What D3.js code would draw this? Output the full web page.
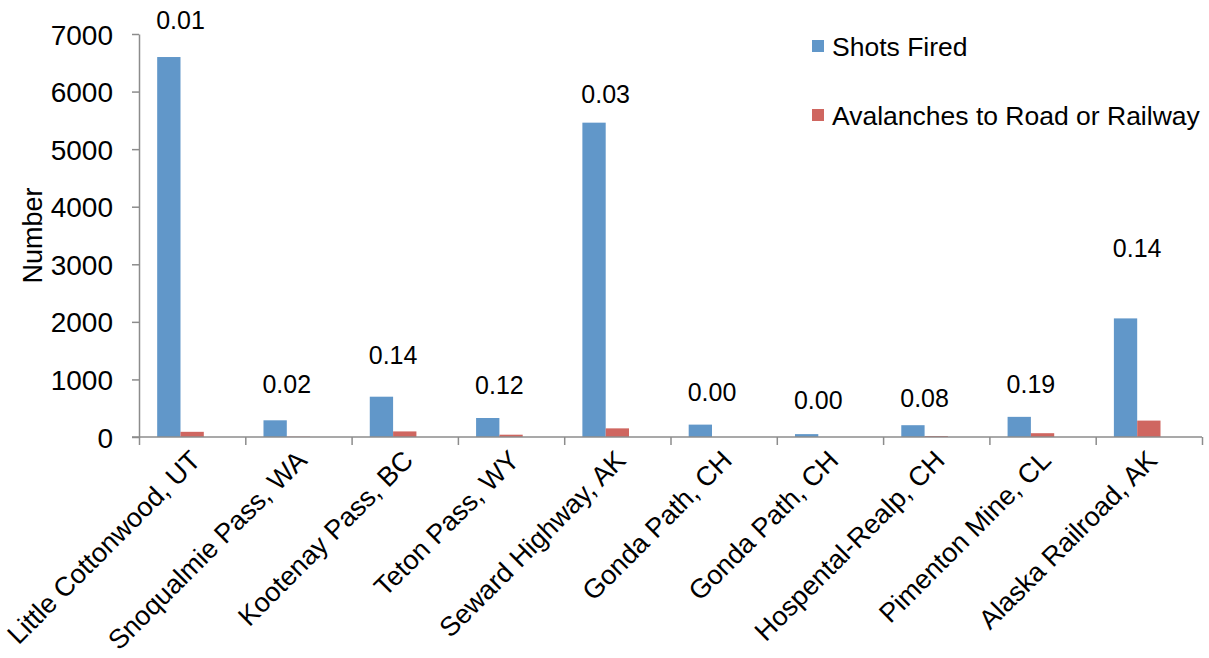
<!DOCTYPE html>
<html>
<head>
<meta charset="utf-8">
<script src="https://cdn.jsdelivr.net/npm/d3@7"></script>
<style>
  body { margin: 0; background: #fff; }
  svg text { font-family: "Liberation Sans", Arial, sans-serif; fill: #000; }
</style>
</head>
<body>
<svg id="chart" width="1209" height="658"></svg>
<script>
const categories = ['Little Cottonwood, UT', 'Snoqualmie Pass, WA', 'Kootenay Pass, BC', 'Teton Pass, WY',
  'Seward Highway, AK', 'Gonda Path, CH', 'Gonda Path, CH ', 'Hospental-Realp, CH', 'Pimenton Mine, CL', 'Alaska Railroad, AK']
const shotsFired = [6600, 290, 700, 330, 5460, 215, 50, 205, 350, 2060]
const avalanches = [90, 6, 97, 40, 150, 0, 0, 17, 66, 285]
const ratioLabels = ['0.01', '0.02', '0.14', '0.12', '0.03', '0.00', '0.00', '0.08', '0.19', '0.14']
// height (in axis units) where each ratio label sits in the original
const labelAnchor = [7080, 760, 1260, 740, 5810, 620, 480, 515, 760, 3135]
const yTicks = [0, 1000, 2000, 3000, 4000, 5000, 6000, 7000]
const seriesNames = ['Shots Fired', 'Avalanches to Road or Railway']

const colors = { shots: '#6197c9', aval: '#cf6660', axis: '#8c8c8c' }

const svg = d3.select('#chart')
const mLeft = 139, mRight = 1202, mTop = 34, mBottom = 437

const x0 = d3.scaleBand().domain(d3.range(categories.length)).range([mLeft, mRight])
const x1 = d3.scaleBand().domain(['shots', 'aval', 'ratio']).range([0, x0.bandwidth()]).paddingOuter(0.78)
const y = d3.scaleLinear().domain([0, 7000]).range([mBottom, mTop])

// y axis
const yAxis = svg.append('g')
  .attr('transform', `translate(${mLeft},0)`)
  .call(d3.axisLeft(y).tickValues(yTicks).tickFormat(d3.format('d')).tickSize(7).tickPadding(19).tickSizeOuter(0))
yAxis.select('.domain').attr('stroke', colors.axis).attr('stroke-width', 1.5)
yAxis.selectAll('.tick line').attr('stroke', colors.axis).attr('stroke-width', 1.5)
yAxis.selectAll('.tick text').style('font-size', '28px').attr('dy', '0.36em')

svg.append('text')
  .attr('transform', `translate(42,${(mTop + mBottom) / 2}) rotate(-90)`)
  .attr('text-anchor', 'middle')
  .style('font-size', '27px')
  .text('Number')

// bars
const groups = svg.append('g').selectAll('g')
  .data(categories.map((c, i) => i))
  .join('g')
  .attr('transform', i => `translate(${x0(i)},0)`)

groups.append('rect')
  .attr('x', x1('shots'))
  .attr('width', x1.bandwidth())
  .attr('y', i => y(shotsFired[i]))
  .attr('height', i => y(0) - y(shotsFired[i]))
  .attr('fill', colors.shots)

groups.append('rect')
  .attr('x', x1('aval'))
  .attr('width', x1.bandwidth())
  .attr('y', i => y(avalanches[i]))
  .attr('height', i => y(0) - y(avalanches[i]))
  .attr('fill', colors.aval)

groups.append('text')
  .attr('x', x1('aval'))
  .attr('y', i => y(labelAnchor[i]))
  .attr('text-anchor', 'middle')
  .style('font-size', '25px')
  .text(i => ratioLabels[i])

// x axis with ticks between categories
const xLin = d3.scaleLinear().domain([0, categories.length]).range([mLeft, mRight])
const xAxis = svg.append('g')
  .attr('transform', `translate(0,${mBottom})`)
  .call(d3.axisBottom(xLin).tickValues(d3.range(categories.length + 1)).tickFormat('').tickSize(8).tickSizeOuter(0))
xAxis.select('.domain').attr('stroke', colors.axis).attr('stroke-width', 1.5)
  .attr('d', `M${mLeft - 7},0H${mRight}`)
xAxis.selectAll('.tick line').attr('stroke', colors.axis).attr('stroke-width', 1.5)

svg.append('g').selectAll('text')
  .data(categories)
  .join('text')
  .attr('text-anchor', 'end')
  .attr('transform', (d, i) => `translate(${x0(i) + x0.bandwidth() / 2 + 10},${mBottom + 25}) rotate(-45)`)
  .style('font-size', '27px')
  .text(d => d.trim())

// legend
const legend = svg.append('g').selectAll('g')
  .data(seriesNames)
  .join('g')
  .attr('transform', (d, i) => `translate(812,${40 + i * 69})`)
legend.append('rect')
  .attr('width', 12).attr('height', 12)
  .attr('fill', (d, i) => i === 0 ? colors.shots : colors.aval)
legend.append('text')
  .attr('x', 20).attr('y', 16)
  .style('font-size', '26.5px')
  .text(d => d)
</script>
</body>
</html>
